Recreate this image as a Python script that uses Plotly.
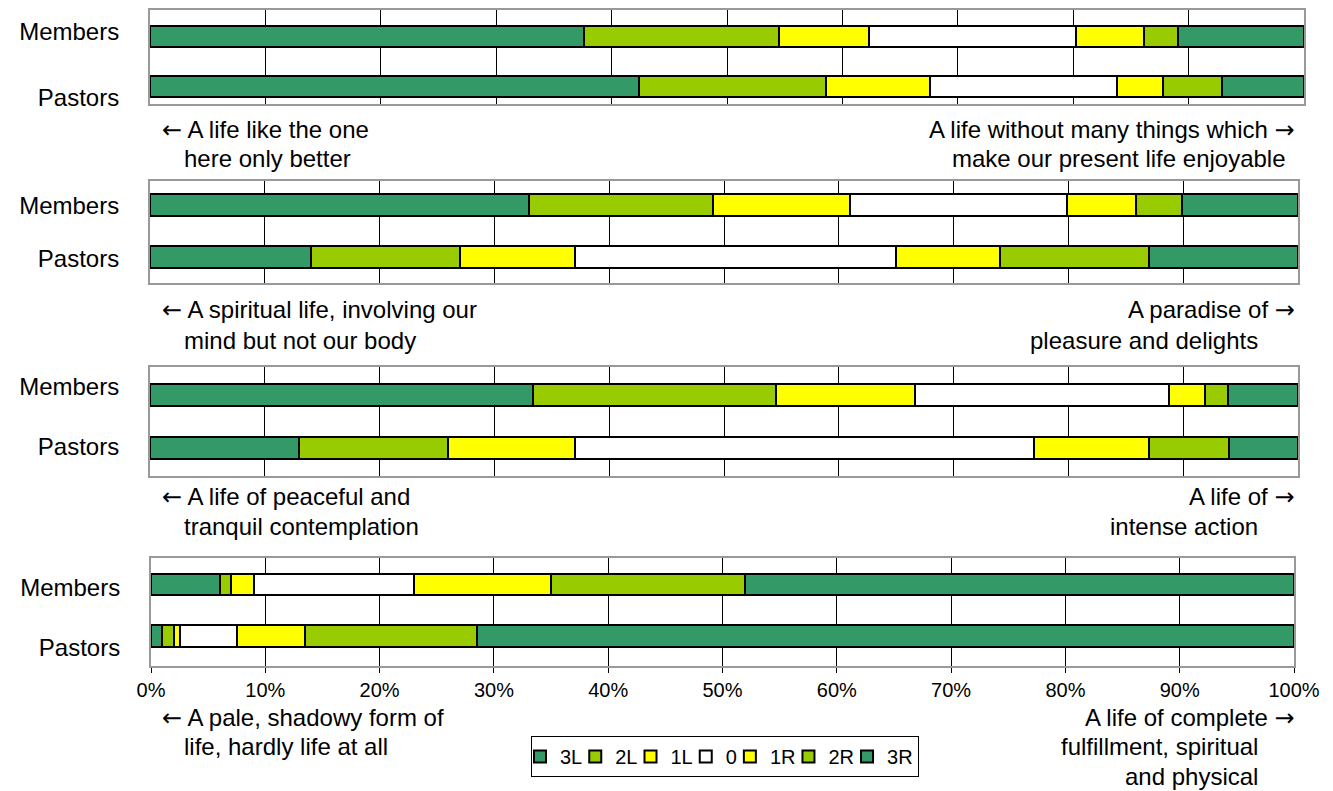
import plotly.graph_objects as go

W, H = 1333, 791

categories = ["Pastors", "Members"]
levels = ["3L", "2L", "1L", "0", "1R", "2R", "3R"]
colors = ["#339966", "#99CC00", "#FFFF00", "#FFFFFF", "#FFFF00", "#99CC00", "#339966"]
tick_vals = [0, 10, 20, 30, 40, 50, 60, 70, 80, 90, 100]
tick_text = ["0%", "10%", "20%", "30%", "40%", "50%", "60%", "70%", "80%", "90%", "100%"]

members_q1 = [37.6, 16.9, 7.8, 17.9, 5.9, 3.0, 10.9]
pastors_q1 = [42.4, 16.2, 9.0, 16.2, 4.0, 5.1, 7.1]
members_q2 = [33.0, 16.0, 12.0, 18.9, 6.0, 4.0, 10.1]
pastors_q2 = [14.0, 13.0, 10.0, 28.0, 9.0, 13.0, 13.0]
members_q3 = [33.4, 21.1, 12.1, 22.2, 3.1, 2.0, 6.1]
pastors_q3 = [13.0, 13.0, 11.0, 40.0, 10.0, 7.0, 6.0]
members_q4 = [6.0, 1.0, 2.0, 14.0, 12.0, 17.0, 48.0]
pastors_q4 = [1.0, 1.0, 0.5, 5.0, 6.0, 15.0, 71.5]

LA = '<span style="font-family:DejaVu Sans">\u2190</span> '
RA = ' <span style="font-family:DejaVu Sans">\u2192</span>'

left_labels = [
    [LA + "A life like the one", "here only better"],
    [LA + "A spiritual life, involving our", "mind but not our body"],
    [LA + "A life of peaceful and", "tranquil contemplation"],
    [LA + "A pale, shadowy form of", "life, hardly life at all"],
]
right_labels = [
    ["A life without many things which" + RA, "make our present life enjoyable"],
    ["A paradise of" + RA, "pleasure and delights"],
    ["A life of" + RA, "intense action"],
    ["A life of complete" + RA, "fulfillment, spiritual", "and physical"],
]

panels = [
    (members_q1, pastors_q1),
    (members_q2, pastors_q2),
    (members_q3, pastors_q3),
    (members_q4, pastors_q4),
]

# pixel layout of each panel: x0, x1, top, bottom, y range, label tick positions
boxes = [
    dict(x0=150, x1=1304, top=10, bot=104, yr=[-0.34, 1.52], lab=[-0.22, 1.085]),
    dict(x0=150, x1=1298, top=181, bot=283, yr=[-0.50, 1.46], lab=[-0.03, 0.99]),
    dict(x0=150, x1=1298, top=367, bot=476, yr=[-0.53, 1.53], lab=[0.02, 1.16]),
    dict(x0=151, x1=1294, top=558, bot=666, yr=[-0.58, 1.51], lab=[-0.23, 0.93]),
]
text_rows = [
    [130, 158, 186],
    [310, 340, 370],
    [497, 526, 556],
    [718, 746, 776],
]
right_ends = [[1297, 1288], [1297, 1260], [1297, 1260], [1297, 1260, 1260]]

FONT = "Liberation Sans, Arial, sans-serif"

fig = go.Figure()
layout = dict(
    width=W, height=H,
    margin=dict(l=0, r=0, t=0, b=0),
    paper_bgcolor="white", plot_bgcolor="white",
    barmode="stack",
    font=dict(family=FONT, size=24, color="black"),
    showlegend=True,
    legend=dict(
        orientation="h", x=531 / W, y=1 - 736 / H, xanchor="left", yanchor="top",
        bordercolor="black", borderwidth=1, bgcolor="white",
        font=dict(size=20), traceorder="normal", itemwidth=30,
        indentation=-12,
    ),
)

annotations = []
for p, (mem, pas) in enumerate(panels):
    ax = "" if p == 0 else str(p + 1)
    for i, lev in enumerate(levels):
        fig.add_trace(go.Bar(
            x=[pas[i], mem[i]], y=[0, 1], orientation="h", width=0.41,
            name=lev, legendgroup=lev, showlegend=(p == 0),
            marker=dict(color=colors[i], line=dict(color="black", width=2)),
            xaxis="x" + ax, yaxis="y" + ax,
        ))
    b = boxes[p]
    last = p == 3
    layout["xaxis" + ax] = dict(
        domain=[b["x0"] / W, b["x1"] / W], anchor="y" + ax, range=[0, 100],
        tickvals=tick_vals, ticktext=tick_text, showticklabels=last,
        ticks="outside" if last else "", ticklen=5, tickcolor="black",
        tickfont=dict(size=20),
        showgrid=True, gridcolor="black", gridwidth=1, zeroline=False,
        showline=True, mirror=True, linecolor="#999999", linewidth=2,
        fixedrange=True, automargin=False,
    )
    layout["yaxis" + ax] = dict(
        domain=[1 - b["bot"] / H, 1 - b["top"] / H], anchor="x" + ax, range=b["yr"],
        tickvals=b["lab"], ticktext=categories, ticks="", ticklabelstandoff=24,
        tickfont=dict(size=24), showgrid=False, zeroline=False,
        showline=True, mirror=True, linecolor="#999999", linewidth=2,
        fixedrange=True, automargin=False,
    )
    rows = text_rows[p]
    for j, line in enumerate(left_labels[p]):
        annotations.append(dict(
            x=(160 if j == 0 else 182) / W, y=1 - rows[j] / H, xref="paper", yref="paper",
            text=line, showarrow=False, xanchor="left", yanchor="middle",
            font=dict(size=24),
        ))
    for j, line in enumerate(right_labels[p]):
        annotations.append(dict(
            x=right_ends[p][j] / W, y=1 - rows[j] / H, xref="paper", yref="paper",
            text=line, showarrow=False, xanchor="right", yanchor="middle",
            font=dict(size=24),
        ))

layout["annotations"] = annotations
fig.update_layout(**layout)
fig.write_html(
    "out.html",
    config={"displayModeBar": False},
    post_script="document.body.style.margin='0';document.body.style.overflow='hidden';",
)
